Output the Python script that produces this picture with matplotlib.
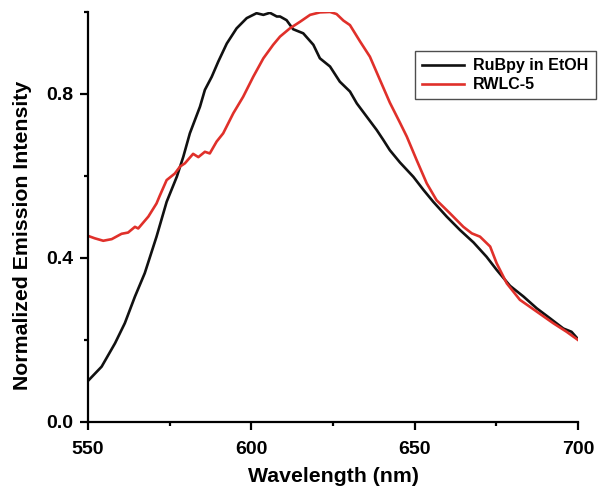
import matplotlib
matplotlib.use("Agg")
import matplotlib.pyplot as plt
from matplotlib.ticker import MultipleLocator, FormatStrFormatter

plt.rcParams['font.family'] = ['Liberation Sans', 'DejaVu Sans']
plt.rcParams['font.weight'] = 'bold'

# Emission spectra (normalized)
wl_rubpy = [550.0, 554.2, 558.3, 561.3, 564.4, 567.4, 571.0, 574.1, 577.2, 579.2,
            581.2, 584.3, 585.8, 587.9, 589.9, 592.5, 595.5, 598.6, 601.6, 603.7,
            605.7, 607.8, 608.8, 610.8, 612.8, 615.9, 619.0, 621.0, 624.1, 627.1,
            630.2, 632.3, 635.3, 638.4, 640.4, 642.4, 645.5, 649.6, 652.7, 655.7,
            659.8, 663.9, 668.0, 672.0, 675.1, 679.2, 683.3, 687.4, 691.4, 695.5,
            698.0, 700.0]
int_rubpy = [0.100, 0.135, 0.192, 0.241, 0.306, 0.363, 0.452, 0.537, 0.598, 0.647,
             0.704, 0.769, 0.810, 0.842, 0.879, 0.923, 0.960, 0.985, 0.997, 0.993,
             0.998, 0.989, 0.989, 0.980, 0.958, 0.948, 0.920, 0.887, 0.867, 0.830,
             0.806, 0.777, 0.745, 0.712, 0.688, 0.663, 0.633, 0.598, 0.566, 0.537,
             0.501, 0.468, 0.438, 0.403, 0.371, 0.332, 0.306, 0.277, 0.253, 0.228,
             0.220, 0.202]

wl_rwlc = [550.0, 552.1, 554.7, 557.3, 560.3, 562.3, 564.4, 565.4, 568.5, 571.0,
           572.0, 574.1, 576.6, 578.2, 579.7, 582.2, 583.8, 585.8, 587.3, 589.4,
           591.4, 594.5, 597.5, 600.6, 603.7, 606.7, 608.8, 611.8, 614.9, 618.0,
           621.0, 624.1, 626.1, 628.2, 630.2, 633.3, 636.3, 639.4, 642.4, 645.5,
           647.6, 650.6, 653.7, 656.7, 660.8, 664.9, 667.5, 670.0, 673.1, 675.1,
           678.2, 682.2, 687.4, 692.4, 696.5, 700.0]
int_rwlc = [0.454, 0.448, 0.442, 0.446, 0.459, 0.462, 0.476, 0.472, 0.501, 0.533,
            0.552, 0.590, 0.606, 0.623, 0.631, 0.654, 0.646, 0.659, 0.655, 0.684,
            0.704, 0.753, 0.793, 0.842, 0.887, 0.920, 0.940, 0.960, 0.976, 0.993,
            0.999, 1.000, 0.995, 0.979, 0.968, 0.928, 0.891, 0.834, 0.779, 0.730,
            0.696, 0.639, 0.582, 0.541, 0.509, 0.476, 0.460, 0.452, 0.428, 0.387,
            0.338, 0.298, 0.269, 0.241, 0.220, 0.200]

fig = plt.figure(figsize=(5.98, 4.87), dpi=100)
ax = fig.add_axes([0.147, 0.1335, 0.8196, 0.8419])

ax.plot(wl_rubpy, int_rubpy, color='#111111', lw=1.9, label='RuBpy in EtOH')
ax.plot(wl_rwlc, int_rwlc, color='#e0302a', lw=1.9, label='RWLC-5')

ax.set_xlim(550, 700)
ax.set_ylim(0.0, 1.0)
ax.xaxis.set_major_locator(MultipleLocator(50))
ax.xaxis.set_minor_locator(MultipleLocator(25))
ax.yaxis.set_major_locator(MultipleLocator(0.4))
ax.yaxis.set_minor_locator(MultipleLocator(0.2))
ax.yaxis.set_major_formatter(FormatStrFormatter('%.1f'))

for side in ('top', 'right'):
    ax.spines[side].set_visible(False)
for side in ('left', 'bottom'):
    ax.spines[side].set_linewidth(1.6)

ax.tick_params(which='major', direction='out', length=5.5, width=1.6, labelsize=14)
ax.tick_params(which='minor', direction='out', length=3, width=1.6)
ax.tick_params(axis='y', which='major', pad=5)
ax.tick_params(axis='x', which='major', pad=8)
for lbl in ax.get_xticklabels() + ax.get_yticklabels():
    lbl.set_fontweight('bold')

ax.set_xlabel('Wavelength (nm)', fontsize=15.3, fontweight='bold', labelpad=7)
ax.set_ylabel('Normalized Emission Intensity', fontsize=15.3, fontweight='bold')
ax.yaxis.set_label_coords(-0.1145, 0.456)

leg = ax.legend(loc='upper right', bbox_to_anchor=(1.036, 0.905),
                frameon=True, fancybox=False, handlelength=2.6, handletextpad=0.6,
                borderpad=0.45, labelspacing=0.25, borderaxespad=0.0,
                prop={'weight': 'bold', 'size': 11.5})
leg.get_frame().set_edgecolor('#222222')
leg.get_frame().set_linewidth(1.0)

fig.savefig('out.png', dpi=100)
